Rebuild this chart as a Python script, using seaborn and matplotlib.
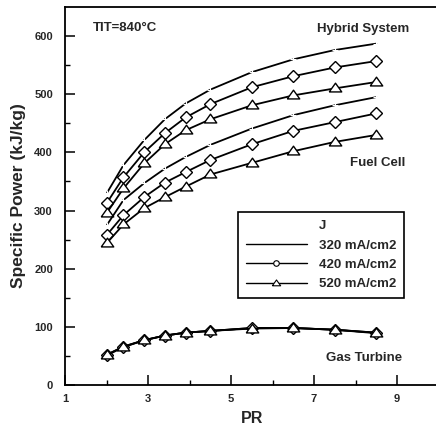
import matplotlib
matplotlib.use("Agg")
import matplotlib.pyplot as plt
from matplotlib.lines import Line2D
from matplotlib.ticker import FixedLocator
import seaborn as sns
import pandas as pd

# ---- data ----
PR = [2.0, 2.4, 2.9, 3.4, 3.9, 4.5, 5.5, 6.5, 7.5, 8.5]

hyb_320 = [330, 378, 421, 457, 484, 508, 538, 560, 576, 587]
hyb_420 = [313, 357, 400, 433, 460, 483, 512, 531, 546, 557]
hyb_520 = [296, 338, 381, 414, 438, 457, 481, 498, 510, 521]

fc_320 = [275, 318, 347, 372, 392, 413, 441, 464, 481, 495]
fc_420 = [258, 292, 323, 348, 366, 387, 414, 437, 452, 467]
fc_520 = [244, 276, 304, 323, 341, 362, 382, 402, 418, 430]

gt_320 = [52, 66, 77, 85, 90, 93, 98, 98, 95, 90]
gt_420 = [52, 66, 77, 85, 90, 93, 98, 98, 95, 90]
gt_520 = [51, 65, 77, 85, 90, 93, 97, 98, 95, 89]

legend_title = "J"
legend_labels = ["320 mA/cm2", "420 mA/cm2", "520 mA/cm2"]

x_major = [1, 3, 5, 7, 9]
x_minor = [2, 4, 6, 8]
y_major = [0, 100, 200, 300, 400, 500, 600]
y_minor = [50, 150, 250, 350, 450, 550]

# ---- styling ----
sns.set_style("ticks")
plt.rcParams["font.family"] = ["Liberation Sans", "DejaVu Sans"]
plt.rcParams["font.weight"] = "bold"

fig = plt.figure(figsize=(4.36, 4.28), dpi=100)
ax = fig.add_axes([0.150, 0.1005, 0.8557, 0.8832])

tri = [(-1, -0.55), (1, -0.55), (0, 0.85), (-1, -0.55)]
styles = {
    "320": dict(marker="+", markersize=4, markeredgewidth=0.8),
    "420": dict(marker="D", markersize=6.2, markerfacecolor="white",
                markeredgecolor="black", markeredgewidth=1.0),
    "520": dict(marker=tri, markersize=9.0, markerfacecolor="white",
                markeredgecolor="black", markeredgewidth=1.0),
}

series = [
    (hyb_320, "320"), (hyb_420, "420"), (hyb_520, "520"),
    (fc_320, "320"), (fc_420, "420"), (fc_520, "520"),
    (gt_320, "320"), (gt_420, "420"), (gt_520, "520"),
]

for vals, key in series:
    df = pd.DataFrame({"PR": PR, "P": vals})
    sns.lineplot(data=df, x="PR", y="P", ax=ax, color="black",
                 linewidth=1.3, legend=False, **styles[key])

ax.set_xlim(1, 10)
ax.set_ylim(0, 650)
ax.xaxis.set_major_locator(FixedLocator(x_major))
ax.xaxis.set_minor_locator(FixedLocator(x_minor))
ax.yaxis.set_major_locator(FixedLocator(y_major))
ax.yaxis.set_minor_locator(FixedLocator(y_minor))

ax.tick_params(axis="both", which="major", direction="in", length=7,
               width=1.1, labelsize=8, color="black")
ax.tick_params(axis="both", which="minor", direction="in", length=3.5,
               width=1.0, color="black")
ax.tick_params(axis="y", which="both", pad=9)
ax.tick_params(axis="x", which="both", pad=6.5)
ax.tick_params(top=False, right=False, which="both")
for lab in ax.get_xticklabels() + ax.get_yticklabels():
    lab.set_fontweight("bold")

for s in ax.spines.values():
    s.set_color("black")
    s.set_linewidth(1.3)

ax.set_xlabel("PR", fontsize=11.5, fontweight="bold", labelpad=5)
ax.set_ylabel("Specific Power (kJ/kg)", fontsize=12.5, fontweight="bold",
              labelpad=6)

ax.text(2.44, 613, "TIT=840°C", ha="center", va="center", fontsize=9.5,
        fontweight="bold")
ax.text(8.19, 612, "Hybrid System", ha="center", va="center", fontsize=9.5,
        fontweight="bold")
ax.text(8.53, 381, "Fuel Cell", ha="center", va="center", fontsize=9.5,
        fontweight="bold")
ax.text(8.2, 46, "Gas Turbine", ha="center", va="center", fontsize=9.5,
        fontweight="bold")

handles = [
    Line2D([], [], linestyle="none", marker=None),
    Line2D([], [], color="black", linewidth=1.0),
    Line2D([], [], color="black", linewidth=1.0, marker="o", markersize=4,
           markerfacecolor="white", markeredgecolor="black", markeredgewidth=0.8),
    Line2D([], [], color="black", linewidth=1.0, marker=tri, markersize=6,
           markerfacecolor="white", markeredgecolor="black", markeredgewidth=0.8),
]
leg = ax.legend(handles, [legend_title] + legend_labels,
                loc="upper left", bbox_to_anchor=(0.463, 0.458),
                borderaxespad=0, frameon=True, fancybox=False,
                edgecolor="black", framealpha=1, handlelength=4.6,
                handletextpad=0.9, labelspacing=0.55, borderpad=0.6,
                prop={"size": 9.5, "weight": "bold"})
leg.get_frame().set_linewidth(1.2)

fig.savefig("out.png", dpi=100)
